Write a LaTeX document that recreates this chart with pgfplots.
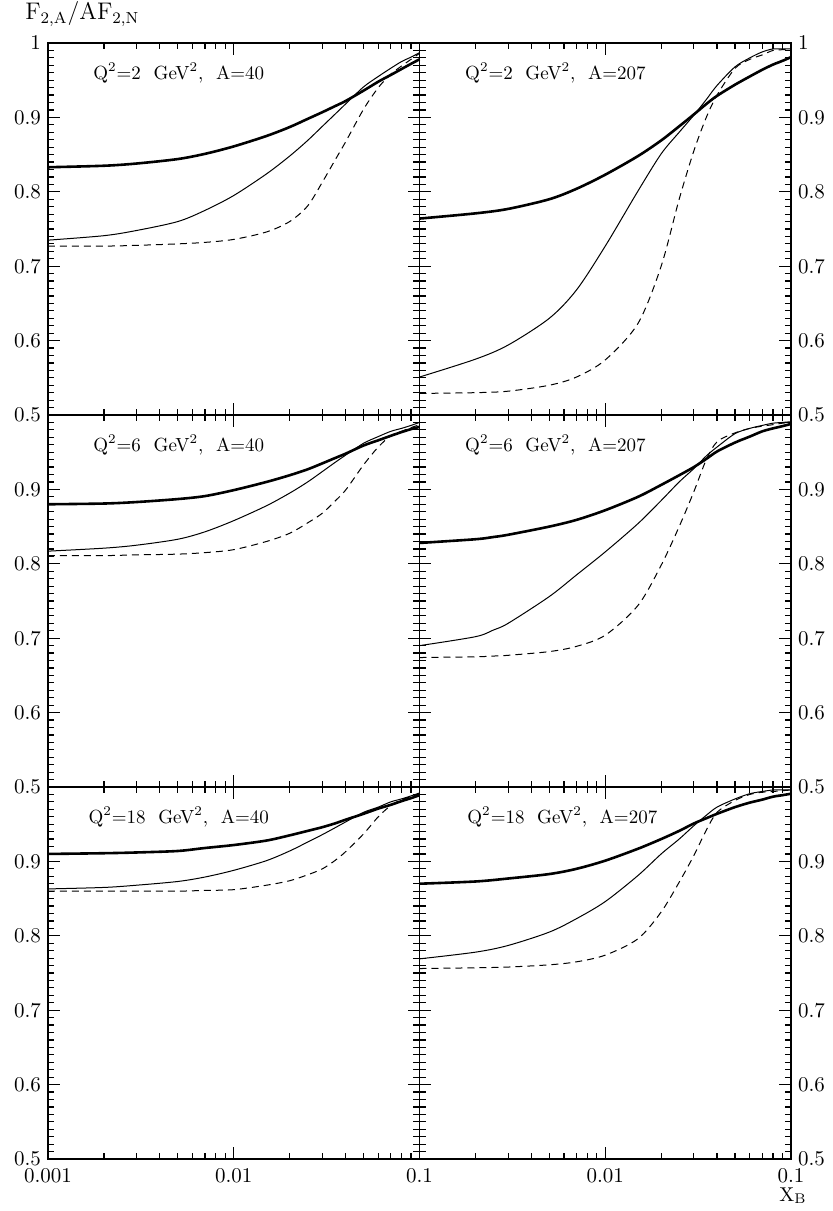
\documentclass[border=0pt]{standalone}
\usepackage{pgfplots}
\pgfplotsset{compat=1.18}
\usepackage{pgfplotstable}

% F2A/AF2N, columns: x, thick solid, thin solid, dashed
\pgfplotstableread{
x      thick  thin   dash
0.001  0.833  0.735  0.727
0.002  0.835  0.741  0.727
0.003  0.838  0.748  0.728
0.005  0.844  0.760  0.730
0.007  0.851  0.775  0.732
0.01   0.861  0.795  0.736
0.015  0.875  0.824  0.746
0.02   0.887  0.848  0.760
0.025  0.898  0.869  0.781
0.03   0.907  0.888  0.813
0.035  0.915  0.904  0.842
0.04   0.922  0.918  0.867
0.05   0.936  0.941  0.911
0.06   0.948  0.955  0.940
0.07   0.957  0.966  0.958
0.08   0.965  0.975  0.969
0.09   0.972  0.981  0.978
0.1    0.978  0.987  0.986
}\tabTL

\pgfplotstableread{
x      thick  thin   dash
0.001  0.764  0.551  0.529
0.002  0.771  0.575  0.530
0.003  0.777  0.594  0.532
0.005  0.790  0.630  0.540
0.007  0.804  0.668  0.551
0.01   0.823  0.727  0.574
0.015  0.848  0.801  0.623
0.02   0.869  0.851  0.700
0.025  0.888  0.880  0.790
0.03   0.904  0.903  0.855
0.035  0.918  0.924  0.900
0.04   0.929  0.943  0.930
0.05   0.944  0.968  0.966
0.06   0.955  0.980  0.978
0.07   0.964  0.988  0.984
0.08   0.971  0.992  0.990
0.09   0.976  0.992  0.991
0.1    0.981  0.992  0.992
}\tabTR

\pgfplotstableread{
x      thick  thin   dash
0.001  0.880  0.817  0.811
0.002  0.881  0.821  0.811
0.003  0.883  0.825  0.812
0.005  0.887  0.833  0.813
0.007  0.891  0.843  0.815
0.01   0.899  0.858  0.819
0.015  0.910  0.878  0.830
0.02   0.919  0.895  0.841
0.025  0.927  0.910  0.855
0.03   0.935  0.924  0.868
0.035  0.942  0.936  0.884
0.04   0.948  0.946  0.899
0.05   0.959  0.962  0.933
0.06   0.966  0.971  0.957
0.07   0.972  0.978  0.972
0.08   0.977  0.982  0.978
0.09   0.981  0.986  0.983
0.1    0.984  0.990  0.987
}\tabML

\pgfplotstableread{
x      thick  thin   dash
0.001  0.828  0.690  0.674
0.002  0.833  0.702  0.675
0.0025 0.836  0.711  0.676
0.003  0.839  0.720  0.677
0.005  0.850  0.756  0.682
0.007  0.859  0.785  0.689
0.01   0.872  0.816  0.704
0.015  0.890  0.854  0.744
0.02   0.906  0.885  0.798
0.025  0.919  0.910  0.850
0.03   0.930  0.928  0.897
0.035  0.941  0.945  0.940
0.04   0.951  0.957  0.964
0.05   0.963  0.975  0.976
0.06   0.971  0.982  0.982
0.07   0.978  0.986  0.985
0.08   0.982  0.989  0.987
0.09   0.985  0.990  0.989
0.1    0.988  0.991  0.990
}\tabMR

\pgfplotstableread{
x      thick  thin   dash
0.001  0.910  0.863  0.860
0.002  0.911  0.865  0.860
0.003  0.912  0.868  0.860
0.005  0.914  0.873  0.860
0.007  0.918  0.879  0.861
0.01   0.922  0.888  0.862
0.015  0.928  0.901  0.868
0.02   0.935  0.914  0.874
0.025  0.941  0.926  0.882
0.03   0.946  0.936  0.890
0.035  0.951  0.945  0.901
0.04   0.956  0.953  0.913
0.05   0.964  0.966  0.937
0.06   0.971  0.973  0.960
0.07   0.976  0.980  0.975
0.08   0.981  0.984  0.983
0.09   0.985  0.988  0.987
0.1    0.989  0.992  0.991
}\tabBL

\pgfplotstableread{
x      thick  thin   dash
0.001  0.870  0.769  0.756
0.002  0.873  0.778  0.757
0.003  0.877  0.787  0.758
0.005  0.883  0.805  0.761
0.007  0.890  0.823  0.765
0.01   0.901  0.846  0.774
0.015  0.917  0.881  0.796
0.02   0.930  0.910  0.832
0.025  0.941  0.930  0.872
0.03   0.951  0.948  0.908
0.035  0.958  0.962  0.942
0.04   0.964  0.973  0.966
0.05   0.973  0.984  0.982
0.06   0.979  0.991  0.990
0.07   0.983  0.994  0.993
0.08   0.987  0.996  0.994
0.09   0.989  0.996  0.995
0.1    0.991  0.996  0.996
}\tabBR

\pgfplotsset{
  fpanel/.style={
    anchor=south west,
    scale only axis,
    width=185.75pt, height=186pt,
    xmin=0.001, xmax=0.1,
    ymin=0.5, ymax=1,
    xtick={0.001,0.01,0.1},
    minor xtick={0.002,0.003,0.004,0.005,0.006,0.007,0.008,0.009,
                 0.02,0.03,0.04,0.05,0.06,0.07,0.08,0.09},
    ytick={0.5,0.6,0.7,0.8,0.9,1},
    minor y tick num=9,
    xtick pos=both, ytick pos=both,
    xticklabels={},
    tick align=inside,
    major tick length=6pt, minor tick length=3.2pt,
    tick style={black, line width=0.6pt},
    axis line style={line width=0.9pt},
    tick label style={font=\fontsize{10.5}{12}\selectfont},
    xticklabel style={inner ysep=1pt, yshift=-3.5pt},
    yticklabel style={inner ysep=0pt},
    clip=false,
  },
}
\tikzset{
  thk/.style={black, line width=1.3pt, smooth, tension=0.5},
  thn/.style={black, line width=0.5pt, smooth, tension=0.5},
  dsh/.style={black, line width=0.5pt, smooth, tension=0.5, dash pattern=on 3.5pt off 2.5pt},
  plabel/.style={anchor=west, inner sep=0pt, font=\fontsize{9.5}{11}\selectfont},
}

\begin{document}
\begin{tikzpicture}
\useasboundingbox (0,0) rectangle (416.5pt,605.5pt);

% top row
\begin{semilogxaxis}[fpanel, at={(24pt,398pt)},
  yticklabel pos=left, yticklabels={0.5,0.6,0.7,0.8,0.9,1}]
  \addplot[thk, mark=none] table[x=x,y=thick]{\tabTL};
  \addplot[thn, mark=none] table[x=x,y=thin]{\tabTL};
  \addplot[dsh, mark=none] table[x=x,y=dash]{\tabTL};
  \node[plabel] at (rel axis cs:0.121,0.919) {Q\textsuperscript{2}=2\ \ GeV\textsuperscript{2},\ \ A=40};
\end{semilogxaxis}
\begin{semilogxaxis}[fpanel, at={(209.75pt,398pt)},
  yticklabel pos=right, yticklabels={0.5,0.6,0.7,0.8,0.9,1}]
  \addplot[thk, mark=none] table[x=x,y=thick]{\tabTR};
  \addplot[thn, mark=none] table[x=x,y=thin]{\tabTR};
  \addplot[dsh, mark=none] table[x=x,y=dash]{\tabTR};
  \node[plabel] at (rel axis cs:0.122,0.919) {Q\textsuperscript{2}=2\ \ GeV\textsuperscript{2},\ \ A=207};
\end{semilogxaxis}

% middle row
\begin{semilogxaxis}[fpanel, at={(24pt,212pt)},
  yticklabel pos=left, yticklabels={0.5,0.6,0.7,0.8,0.9,}]
  \addplot[thk, mark=none] table[x=x,y=thick]{\tabML};
  \addplot[thn, mark=none] table[x=x,y=thin]{\tabML};
  \addplot[dsh, mark=none] table[x=x,y=dash]{\tabML};
  \node[plabel] at (rel axis cs:0.121,0.919) {Q\textsuperscript{2}=6\ \ GeV\textsuperscript{2},\ \ A=40};
\end{semilogxaxis}
\begin{semilogxaxis}[fpanel, at={(209.75pt,212pt)},
  yticklabel pos=right, yticklabels={0.5,0.6,0.7,0.8,0.9,}]
  \addplot[thk, mark=none] table[x=x,y=thick]{\tabMR};
  \addplot[thn, mark=none] table[x=x,y=thin]{\tabMR};
  \addplot[dsh, mark=none] table[x=x,y=dash]{\tabMR};
  \node[plabel] at (rel axis cs:0.122,0.919) {Q\textsuperscript{2}=6\ \ GeV\textsuperscript{2},\ \ A=207};
\end{semilogxaxis}

% bottom row
\begin{semilogxaxis}[fpanel, at={(24pt,26pt)},
  yticklabel pos=left, yticklabels={0.5,0.6,0.7,0.8,0.9,},
  xticklabel pos=lower, xticklabels={0.001,0.01,0.1}]
  \addplot[thk, mark=none] table[x=x,y=thick]{\tabBL};
  \addplot[thn, mark=none] table[x=x,y=thin]{\tabBL};
  \addplot[dsh, mark=none] table[x=x,y=dash]{\tabBL};
  \node[plabel] at (rel axis cs:0.108,0.919) {Q\textsuperscript{2}=18\ \ GeV\textsuperscript{2},\ \ A=40};
\end{semilogxaxis}
\begin{semilogxaxis}[fpanel, at={(209.75pt,26pt)},
  yticklabel pos=right, yticklabels={0.5,0.6,0.7,0.8,0.9,},
  xticklabel pos=lower, xticklabels={,0.01,0.1}]
  \addplot[thk, mark=none] table[x=x,y=thick]{\tabBR};
  \addplot[thn, mark=none] table[x=x,y=thin]{\tabBR};
  \addplot[dsh, mark=none] table[x=x,y=dash]{\tabBR};
  \node[plabel] at (rel axis cs:0.128,0.919) {Q\textsuperscript{2}=18\ \ GeV\textsuperscript{2},\ \ A=207};
\end{semilogxaxis}

\node[anchor=base west, inner sep=0pt, font=\fontsize{12}{14}\selectfont]
  at (12.5pt,595.5pt) {$\mathrm{F}_{\mathrm{2,A}}/\mathrm{AF}_{\mathrm{2,N}}$};
\node[anchor=base west, inner sep=0pt, font=\fontsize{10}{12}\selectfont]
  at (389.5pt,5pt) {$\mathrm{X}_{\mathrm{B}}$};
\end{tikzpicture}
\end{document}
